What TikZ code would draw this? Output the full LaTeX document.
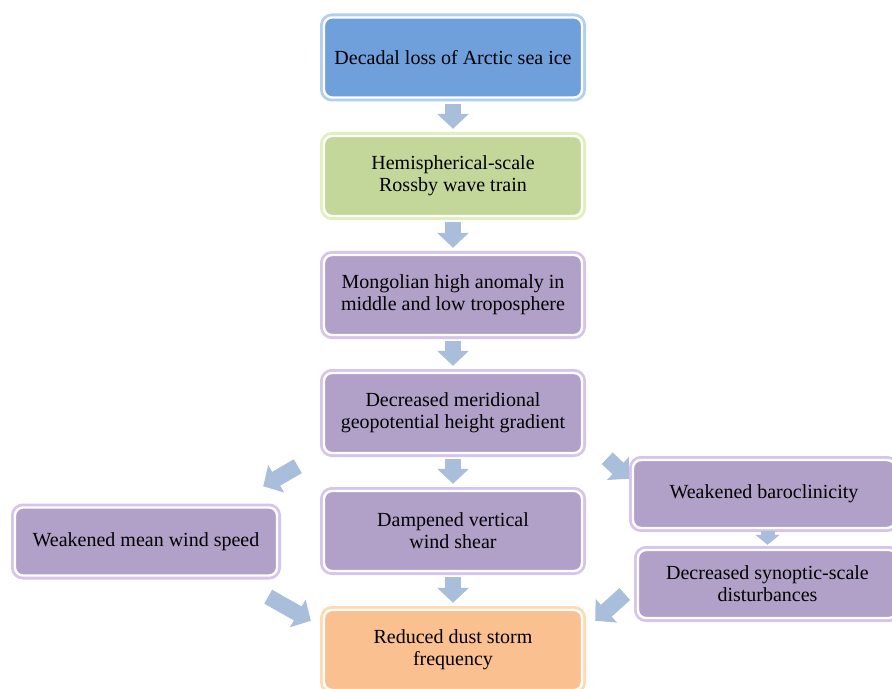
\documentclass[tikz,border=0pt]{standalone}
\usepackage{fontspec}
\setmainfont{Liberation Serif}
\usepackage{tikz}
\usetikzlibrary{arrows.meta}

\definecolor{iceblue}{RGB}{111,160,220}
\definecolor{iceglow}{RGB}{178,206,242}
\definecolor{wavegreen}{RGB}{196,215,155}
\definecolor{waveglow}{RGB}{224,240,186}
\definecolor{atmpurple}{RGB}{177,160,199}
\definecolor{atmglow}{RGB}{214,196,234}
\definecolor{dustorange}{RGB}{250,192,143}
\definecolor{dustglow}{RGB}{255,218,176}
\definecolor{flowblue}{RGB}{169,190,219}

\tikzset{
  box/.style 2 args={rectangle, rounded corners=4pt, fill=#1, draw=white,
    line width=1.2pt, preaction={draw=#2, line width=4pt},
    align=center, text=black, inner sep=2pt,
    font=\fontsize{10}{11}\selectfont},
  midbox/.style={minimum width=129pt, minimum height=40pt},
  sidebox/.style={minimum width=131pt, minimum height=34pt},
  flow/.style={draw=flowblue, line width=8pt,
    -{Triangle[length=7.5pt,width=15.5pt]}},
  smallflow/.style={draw=flowblue, line width=7pt,
    -{Triangle[length=5pt,width=12pt]}}
}

\begin{document}
\begin{tikzpicture}[x=0.5pt,y=-0.5pt]
    \useasboundingbox (0,0) rectangle (892,689);
    \node[box={iceblue}{iceglow}, midbox] (ice) at (453,57.5) {Decadal loss of Arctic sea ice};
    \node[box={wavegreen}{waveglow}, midbox] (wave) at (453,176) {Hemispherical-scale\\Rossby wave train};
    \node[box={atmpurple}{atmglow}, midbox] (high) at (453,295) {Mongolian high anomaly in\\middle and low troposphere};
    \node[box={atmpurple}{atmglow}, midbox] (grad) at (453,413) {Decreased meridional\\geopotential height gradient};
    \node[box={atmpurple}{atmglow}, midbox] (shear) at (453,531) {Dampened vertical\\wind shear};
    \node[box={dustorange}{dustglow}, midbox] (dust) at (453,650) {Reduced dust storm\\frequency};
    \node[box={atmpurple}{atmglow}, sidebox] (wind) at (146,541.5) {Weakened mean wind speed};
    \node[box={atmpurple}{atmglow}, sidebox] (baro) at (764,494) {Weakened baroclinicity};
    \node[box={atmpurple}{atmglow}, sidebox, minimum width=129.5pt] (syn) at (767.5,584) {Decreased synoptic-scale\\disturbances};
    \draw[flow, shorten <=2.5pt, shorten >=3pt] (ice) -- (wave);
    \draw[flow, shorten <=2.5pt, shorten >=3pt] (wave) -- (high);
    \draw[flow, shorten <=2.5pt, shorten >=3pt] (high) -- (grad);
    \draw[flow, shorten <=2.5pt, shorten >=3pt] (grad) -- (shear);
    \draw[flow, shorten <=2.5pt, shorten >=3pt] (shear) -- (dust);
    \draw[smallflow, shorten <=1pt, shorten >=2pt] (baro.south -| syn) -- (syn.north);
    \draw[flow] ([shift={(-25,12)}]grad.south west) -- ([shift={(-15,-20)}]wind.north east);
    \draw[flow] ([shift={(24,4)}]grad.south east) -- ([shift={(-3,20)}]baro.north west);
    \draw[flow] ([shift={(-10,20)}]wind.south east) -- ([shift={(-12,12)}]dust.north west);
    \draw[flow] ([shift={(-12,10)}]syn.west) -- ([shift={(12,12)}]dust.north east);
\end{tikzpicture}
\end{document}
